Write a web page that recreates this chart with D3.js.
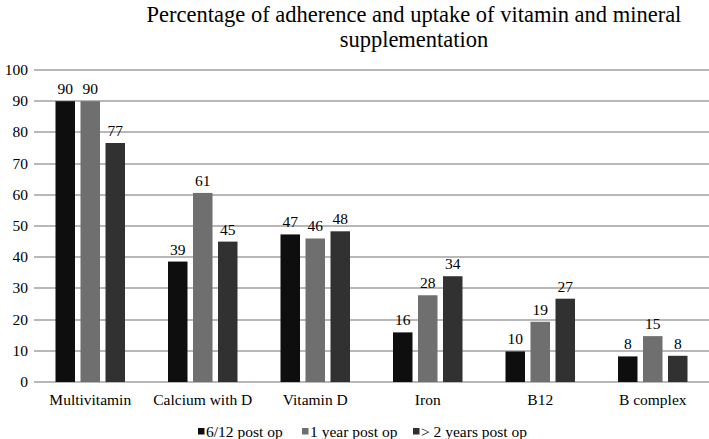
<!DOCTYPE html>
<html><head><meta charset="utf-8">
<script src="https://cdn.jsdelivr.net/npm/d3@7"></script>
<style>body{margin:0;background:#fff}svg{display:block}</style>
</head><body><svg id="c" width="709" height="439"></svg>
<script>
const categories = ["Multivitamin","Calcium with D","Vitamin D","Iron","B12","B complex"];
const seriesNames = ["6/12 post op","1 year post op","> 2 years post op"];
const s1 = [90, 38.6, 47.3, 15.9, 9.8, 8.2];
const s2 = [90, 60.6, 46.0, 27.8, 19.3, 14.7];
const s3 = [76.6, 45.0, 48.3, 33.9, 26.7, 8.4];
const s1Labels = ["90","39","47","16","10","8"];
const s2Labels = ["90","61","46","28","19","15"];
const s3Labels = ["77","45","48","34","27","8"];
const yTicks = [0,10,20,30,40,50,60,70,80,90,100];
const colors = ["#0e0e0e","#6f6f6f","#313131"];

(function(){
const FONT = "'Liberation Serif', 'Times New Roman', Tinos, 'DejaVu Serif', serif";
const series = [s1,s2,s3], labels=[s1Labels,s2Labels,s3Labels];
const svg = d3.select("#c").attr("font-family", FONT);
const pL=34, pR=709, pT=70, pB=382;
const x = d3.scaleBand().domain(categories).range([pL,pR]).paddingInner(0).paddingOuter(0);
const y = d3.scaleLinear().domain([0,100]).range([pB,pT]);
const barW=19.5, step=25;

svg.append("text").attr("x",414).attr("y",22).attr("text-anchor","middle").attr("font-size",22.5).text("Percentage of adherence and uptake of vitamin and mineral");
svg.append("text").attr("x",414).attr("y",47).attr("text-anchor","middle").attr("font-size",22.5).text("supplementation");

const grid = svg.append("g");
yTicks.forEach(d=>{
  grid.append("rect").attr("x",pL).attr("width",pR-pL).attr("y",Math.round(y(d))-1).attr("height",2).attr("fill","#b8b8b8");
});
const g = svg.append("g");
g.selectAll("text.yt").data(yTicks).join("text").attr("class","yt")
 .attr("x",28).attr("y",d=>y(d)+5).attr("text-anchor","end").attr("font-size",15.5).text(d=>d);

series.forEach((s,si)=>{
  const cx = c => x(c)+x.bandwidth()/2 + (si-1)*step;
  g.selectAll("rect.s"+si).data(categories).join("rect").attr("class","s"+si)
   .attr("x",c=>cx(c)-barW/2).attr("width",barW)
   .attr("y",(c,i)=>y(s[i])).attr("height",(c,i)=>y(0)-y(s[i])).attr("fill",colors[si]);
  g.selectAll("text.l"+si).data(categories).join("text").attr("class","l"+si)
   .attr("x",c=>cx(c)).attr("y",(c,i)=>y(s[i])-7).attr("text-anchor","middle").attr("font-size",15.5)
   .text((c,i)=>labels[si][i]);
});

g.selectAll("text.cat").data(categories).join("text").attr("class","cat")
 .attr("x",c=>x(c)+x.bandwidth()/2).attr("y",405).attr("text-anchor","middle").attr("font-size",15.5).text(c=>c);

const legX=[198,302,413];
seriesNames.forEach((n,i)=>{
  svg.append("rect").attr("x",legX[i]).attr("y",428).attr("width",6.5).attr("height",6.5).attr("fill",colors[i]);
  svg.append("text").attr("x",legX[i]+8).attr("y",437).attr("font-size",15.5).text(n);
});
})();
</script></body></html>
